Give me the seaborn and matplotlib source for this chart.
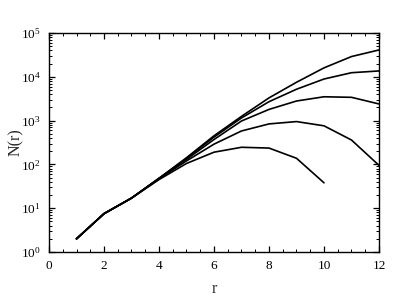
import numpy as np
import pandas as pd
import matplotlib
matplotlib.use("Agg")
import matplotlib.pyplot as plt
import seaborn as sns
from matplotlib.ticker import LogLocator, MultipleLocator, NullFormatter

# --- data (N(r) for five runs) ---
r_full = [1, 2, 3, 4, 5, 6, 7, 8, 9, 10, 11, 12]
n_a = [2, 7.5, 17, 48, 142, 450, 1250, 3300, 7500, 16000, 29000, 41000]
n_b = [2, 7.5, 17, 48, 138, 420, 1150, 2700, 5200, 8900, 12400, 13600]
n_c = [2, 7.5, 17, 48, 130, 370, 980, 1800, 2800, 3500, 3400, 2400]
n_d = [2, 7.5, 17, 47, 120, 290, 580, 840, 950, 760, 360, 95]
r_short = [1, 2, 3, 4, 5, 6, 7, 8, 9, 10]
n_e = [2, 7.5, 17, 45, 105, 190, 246, 236, 138, 38]

frames = []
for name, rr, nn in [("a", r_full, n_a), ("b", r_full, n_b), ("c", r_full, n_c),
                     ("d", r_full, n_d), ("e", r_short, n_e)]:
    frames.append(pd.DataFrame({"r": rr, "N": nn, "run": name}))
df = pd.concat(frames, ignore_index=True)

sns.set_style("ticks")
plt.rcParams['font.family'] = ['Liberation Serif', 'DejaVu Serif']
plt.rcParams['mathtext.fontset'] = 'stix'

fig = plt.figure(figsize=(4.12, 3.0), dpi=100)
ax = fig.add_axes([49 / 412, 1 - 252 / 300, 330 / 412, 219 / 300])

sns.lineplot(data=df, x="r", y="N", hue="run", palette=["black"] * 5,
             linewidth=1.2, legend=False, ax=ax)

ax.set_yscale("log")
ax.set_xlim(0, 12)
ax.set_ylim(1, 1e5)
ax.xaxis.set_major_locator(MultipleLocator(2))
ax.xaxis.set_minor_locator(MultipleLocator(0.5))
ax.yaxis.set_major_locator(LogLocator(base=10, numticks=10))
ax.yaxis.set_minor_locator(LogLocator(base=10, subs=np.arange(2, 10), numticks=20))
ax.yaxis.set_minor_formatter(NullFormatter())

ax.tick_params(which="both", direction="in", top=True, right=True,
               colors="black", labelsize=9.5, pad=6)
ax.tick_params(which="major", length=4, width=0.9)
ax.tick_params(which="minor", length=2.2, width=0.7)
for s in ax.spines.values():
    s.set_linewidth(1.0)
    s.set_color("black")

ax.set_xlabel("r", fontsize=11.5, labelpad=6)
ax.set_ylabel("N(r)", fontsize=11.5, labelpad=-2)

fig.savefig("out.png", dpi=100)
